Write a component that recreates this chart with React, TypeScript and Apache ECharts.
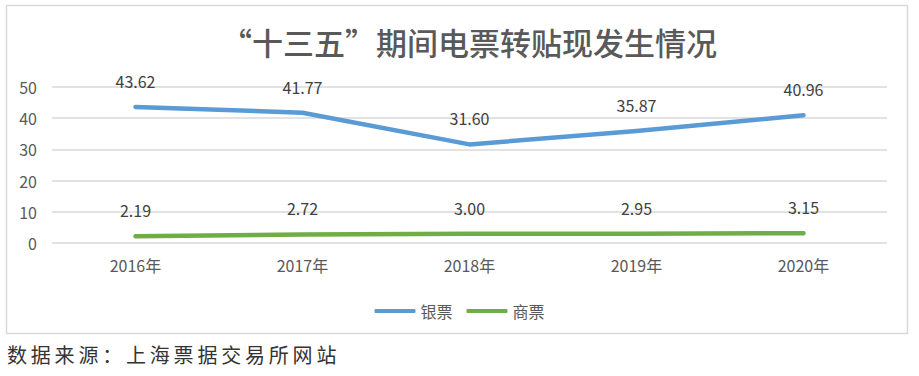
import React, { useEffect, useRef } from "react";
import * as echarts from "echarts";

const categories = ["2016年", "2017年", "2018年", "2019年", "2020年"];
const bankBills = [43.62, 41.77, 31.6, 35.87, 40.96];
const commercialBills = [2.19, 2.72, 3.0, 2.95, 3.15];
const seriesNames = ["银票", "商票"];
const titleText = "“十三五”期间电票转贴现发生情况";
const sourceText = "数据来源：上海票据交易所网站";

const FONT = "'Noto Sans CJK SC', 'Noto Sans', sans-serif";

export default function App() {
  const ref = useRef<HTMLDivElement>(null);
  useEffect(() => {
    if (!ref.current) return;
    const chart = echarts.init(ref.current, undefined, { renderer: "svg" });
    const labelCfg = {
      show: true,
      position: "top" as const,
      distance: 18,
      color: "#404040",
      fontSize: 16,
      fontFamily: FONT,
      formatter: (p: any) => Number(p.value).toFixed(2),
    };
    chart.setOption({
      animation: false,
      backgroundColor: "#ffffff",
      textStyle: { fontFamily: FONT },
      graphic: [
        {
          type: "rect",
          shape: { x: 6.5, y: 5.5, width: 901, height: 328 },
          style: { fill: "none", stroke: "#D9D9D9", lineWidth: 1.5 },
          silent: true,
        },
        {
          type: "text",
          x: 469,
          y: 41,
          style: {
            text: titleText,
            align: "center",
            verticalAlign: "middle",
            fontSize: 31,
            fontWeight: 500,
            fill: "#595959",
            fontFamily: FONT,
          },
        },
      ],
      legend: {
        data: seriesNames,
        top: 298,
        left: "center",
        itemWidth: 41,
        itemHeight: 4,
        itemGap: 14,
        textStyle: { color: "#595959", fontSize: 16, fontFamily: FONT },
        icon: "roundRect",
      },
      grid: { left: 52, right: 32, top: 87, bottom: 97, containLabel: false },
      xAxis: {
        type: "category",
        data: categories,
        boundaryGap: true,
        axisLine: { show: false },
        axisTick: { show: false },
        axisLabel: { color: "#595959", fontSize: 16, margin: 14, fontFamily: FONT },
      },
      yAxis: {
        type: "value",
        min: 0,
        max: 50,
        interval: 10,
        axisLine: { show: false },
        axisTick: { show: false },
        axisLabel: { color: "#595959", fontSize: 16, margin: 15, fontFamily: FONT },
        splitLine: { lineStyle: { color: "#D9D9D9", width: 1.5 } },
      },
      series: [
        {
          name: seriesNames[0],
          type: "line",
          data: bankBills,
          showSymbol: true,
          symbol: "circle",
          symbolSize: 0.1,
          lineStyle: { color: "#5B9BD5", width: 4.5, cap: "round", join: "round" },
          itemStyle: { color: "#5B9BD5" },
          label: labelCfg,
        },
        {
          name: seriesNames[1],
          type: "line",
          data: commercialBills,
          showSymbol: true,
          symbol: "circle",
          symbolSize: 0.1,
          lineStyle: { color: "#70AD47", width: 4.5, cap: "round", join: "round" },
          itemStyle: { color: "#70AD47" },
          label: labelCfg,
        },
      ],
    });
    return () => chart.dispose();
  }, []);
  return (
    <div style={{ position: "absolute", left: 0, top: 0, width: 919, height: 376, background: "#fff" }}>
      <div ref={ref} style={{ position: "absolute", left: 0, top: 0, width: 919, height: 340 }} />
      <div
        style={{
          position: "absolute",
          left: 7,
          top: 342,
          fontSize: 20,
          lineHeight: "26px",
          letterSpacing: "3.8px",
          color: "#333333",
          fontFamily: FONT,
          whiteSpace: "nowrap",
        }}
      >
        {sourceText}
      </div>
    </div>
  );
}
